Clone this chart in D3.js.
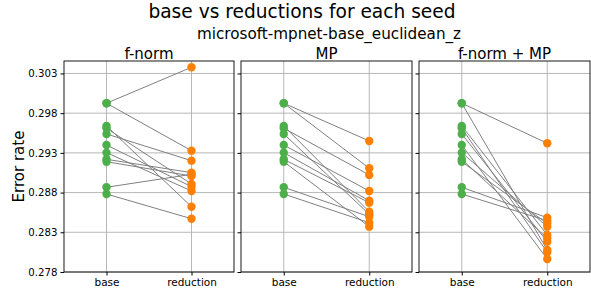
<!DOCTYPE html>
<html><head><meta charset="utf-8">
<script src="https://cdn.jsdelivr.net/npm/d3@7"></script>
<style>body{margin:0;background:#fff} text{font-family:"DejaVu Sans",sans-serif;fill:#000}</style>
</head><body><svg id="c" width="591" height="293"></svg>
<script>
const categories = ["base", "reduction"];
const panelTitles = ["f-norm", "MP", "f-norm + MP"];
const baseValues    = [0.29925, 0.29925, 0.29639, 0.29610, 0.29538, 0.29399, 0.29303, 0.29219, 0.29189, 0.28867, 0.28782];
const fnormValues   = [0.30378, 0.29328, 0.28622, 0.28908, 0.29202, 0.28874, 0.28820, 0.29051, 0.29009, 0.29030, 0.28471];
const mpValues      = [0.29450, 0.29106, 0.28559, 0.29022, 0.28527, 0.28820, 0.28698, 0.28673, 0.28371, 0.28496, 0.28421];
const fnormMpValues = [0.29421, 0.28077, 0.28266, 0.28048, 0.28182, 0.27964, 0.28371, 0.28224, 0.28410, 0.28484, 0.28446];
const yTickValues = [0.278, 0.283, 0.288, 0.293, 0.298, 0.303];
const mainTitle = "base vs reductions for each seed";
const subTitle = "microsoft-mpnet-base_euclidean_z";
const yLabel = "Error rate";

(function () {
const reductionSeries = [fnormValues, mpValues, fnormMpValues];
const panels = [[64, 234], [241, 412], [419, 590]];
const yTop = 61, yBottom = 272;
const green = "#4daf4a", orange = "#ff7f00";

const svg = d3.select("#c");
const y = d3.scaleLinear().domain([0.278, 0.30457]).range([yBottom, yTop]);

svg.append("text").attr("x", 302).attr("y", 18).attr("text-anchor", "middle")
  .style("font-size", "18.6px").text(mainTitle);
svg.append("text").attr("x", 329).attr("y", 39).attr("text-anchor", "middle")
  .style("font-size", "15.2px").text(subTitle);
svg.append("text").attr("transform", `translate(24,${(yTop + yBottom) / 2}) rotate(-90)`)
  .attr("text-anchor", "middle").style("font-size", "15px").text(yLabel);

panels.forEach(([x0, x1], i) => {
  const g = svg.append("g");
  const x = d3.scaleLinear().domain([-0.5, 1.5]).range([x0, x1]);
  g.selectAll(".gy").data(yTickValues).join("line")
    .attr("x1", x0).attr("x2", x1).attr("y1", d => y(d)).attr("y2", d => y(d))
    .attr("stroke", "#b0b0b0").attr("stroke-width", 0.9);
  g.selectAll(".gx").data(categories).join("line")
    .attr("x1", (d, j) => x(j)).attr("x2", (d, j) => x(j)).attr("y1", yTop).attr("y2", yBottom)
    .attr("stroke", "#b0b0b0").attr("stroke-width", 0.9);
  const ya = d3.axisLeft(y).tickValues(yTickValues).tickSize(3.5).tickPadding(3)
    .tickFormat(i === 0 ? d3.format(".3f") : () => "");
  const yg = g.append("g").attr("transform", `translate(${x0},0)`).call(ya);
  yg.select(".domain").remove();
  yg.selectAll("text").style("font-size", "10.2px");
  const xa = d3.axisBottom(x).tickValues([0, 1]).tickSize(3.5).tickPadding(3)
    .tickFormat(d => categories[d]);
  const xg = g.append("g").attr("transform", `translate(0,${yBottom})`).call(xa);
  xg.select(".domain").remove();
  xg.selectAll("text").style("font-size", "10.5px");
  g.append("rect").attr("x", x0).attr("y", yTop).attr("width", x1 - x0).attr("height", yBottom - yTop)
    .attr("fill", "none").attr("stroke", "#000").attr("stroke-width", 0.9);
  g.append("text").attr("x", (x0 + x1) / 2).attr("y", 58.5).attr("text-anchor", "middle")
    .style("font-size", "15px").text(panelTitles[i]);
  const red = reductionSeries[i];
  const pairs = baseValues.map((b, k) => [b, red[k]]);
  g.selectAll(".ln").data(pairs).join("line")
    .attr("x1", x(0)).attr("x2", x(1)).attr("y1", d => y(d[0])).attr("y2", d => y(d[1]))
    .attr("stroke", "#808080").attr("stroke-width", 1);
  g.selectAll(".pb").data(baseValues).join("circle")
    .attr("cx", x(0)).attr("cy", d => y(d)).attr("r", 4.2).attr("fill", green);
  g.selectAll(".pr").data(red).join("circle")
    .attr("cx", x(1)).attr("cy", d => y(d)).attr("r", 4.2).attr("fill", orange);
});
})();
</script></body></html>
